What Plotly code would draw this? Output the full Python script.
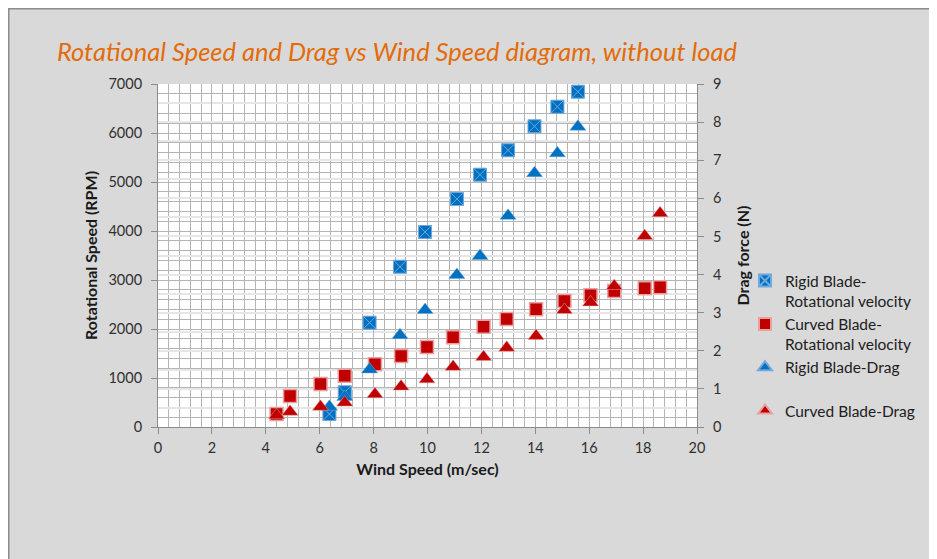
import plotly.graph_objects as go

# Wind speed (m/sec)
rigid_x = [6.36, 6.93, 7.85, 8.98, 9.91, 11.09, 11.95, 12.99, 13.97, 14.82, 15.58]
rigid_rpm = [265, 708, 2129, 3271, 3980, 4653, 5149, 5647, 6137, 6537, 6843]
rigid_drag = [0.53, 0.79, 1.51, 2.41, 3.07, 3.99, 4.49, 5.54, 6.66, 7.18, 7.88]

curved_x = [4.40, 4.90, 6.03, 6.93, 8.05, 9.02, 9.98, 10.95, 12.08, 12.94,
            14.03, 15.08, 16.05, 16.93, 18.06, 18.63]
curved_rpm = [265, 633, 878, 1048, 1279, 1449, 1633, 1830, 2048, 2204,
              2401, 2571, 2687, 2776, 2830, 2851]
curved_drag = [0.31, 0.40, 0.53, 0.64, 0.86, 1.06, 1.25, 1.58, 1.84, 2.08,
               2.39, 3.07, 3.27, 3.70, 5.01, 5.61]

names = ["Rigid Blade-<br>Rotational velocity",
         "Curved Blade-<br>Rotational velocity",
         "Rigid Blade-Drag<br>&nbsp;",
         "Curved Blade-Drag<br>&nbsp;"]

BLUE = "#0070C0"
RED = "#C00000"
FONT = "Lato, 'Open Sans', sans-serif"

# page has an 8px body margin; the figure is sized to fill the rest of the window
W, H = 929, 551
L, T, R, B = 150, 76, 240, 132
PH = H - T - B  # plot height

fig = go.Figure()
fig.add_trace(go.Scatter(x=rigid_x, y=rigid_rpm, mode="markers", name=names[0],
                         legendgroup="a",
                         marker=dict(symbol="square-x", size=13, color=BLUE,
                                     line=dict(color="#6FA8DC", width=1))))
fig.add_trace(go.Scatter(x=curved_x, y=curved_rpm, mode="markers", name=names[1],
                         legendgroup="b",
                         marker=dict(symbol="square", size=13, color=RED,
                                     line=dict(color="#E8A0A0", width=1.5))))
fig.add_trace(go.Scatter(x=rigid_x, y=rigid_drag, mode="markers", name=names[2],
                         legendgroup="c", yaxis="y2",
                         marker=dict(symbol="triangle-up", size=14, color=BLUE,
                                     line=dict(color="#6FA8DC", width=0.5))))
fig.add_trace(go.Scatter(x=curved_x, y=curved_drag, mode="markers", name=names[3],
                         legendgroup="d", yaxis="y2",
                         marker=dict(symbol="triangle-up", size=14, color=RED,
                                     line=dict(color="#E8A0A0", width=0.5))))

axis_font = dict(family=FONT, size=14.5, color="#303030")
title_font = dict(family=FONT, size=16, color="#1A1A1A")
fig.update_layout(
    width=W, height=H,
    margin=dict(l=L, r=R, t=T, b=B),
    paper_bgcolor="#D9D9D9",
    plot_bgcolor="white",
    font=dict(family=FONT, size=14, color="#202020"),
    title=dict(text="<i>Rotational Speed and Drag vs Wind Speed diagram, without load</i>",
               font=dict(family=FONT, size=25.5, color="#E36C0A"),
               x=49 / W, xref="container", xanchor="left",
               y=1 - 44 / H, yref="container", yanchor="middle"),
    xaxis=dict(range=[0, 20], dtick=2, tick0=0, showgrid=True,
               gridcolor="#B4B4B4", gridwidth=1,
               minor=dict(dtick=0.4, showgrid=True, gridcolor="#B4B4B4", gridwidth=1),
               showline=True, linecolor="#8C8C8C", linewidth=1,
               ticks="outside", ticklen=6, tickcolor="#8C8C8C",
               ticklabelstandoff=2,
               tickfont=axis_font, zeroline=False,
               title=dict(text="<b>Wind Speed (m/sec)</b>", standoff=8, font=title_font)),
    yaxis=dict(range=[0, 7000], dtick=1000, showgrid=True,
               gridcolor="#B4B4B4", gridwidth=1,
               minor=dict(dtick=200, showgrid=True, gridcolor="#B4B4B4", gridwidth=1),
               showline=True, linecolor="#8C8C8C", linewidth=1,
               ticks="outside", ticklen=6, tickcolor="#8C8C8C",
               ticklabelstandoff=6,
               tickfont=axis_font, zeroline=False,
               title=dict(text="<b>Rotational Speed (RPM)</b>", standoff=6, font=title_font)),
    yaxis2=dict(range=[0, 9], dtick=1, overlaying="y", side="right",
                showgrid=True, gridcolor="#E6E6E6", gridwidth=2,
                minor=dict(dtick=0.5, showgrid=True, gridcolor="#E6E6E6", gridwidth=2),
                showline=True, linecolor="#8C8C8C", linewidth=1,
                ticks="outside", ticklen=6, tickcolor="#8C8C8C",
                ticklabelstandoff=6,
                tickfont=axis_font, zeroline=False,
                title=dict(text="<b>Drag force (N)</b>", standoff=17, font=title_font)),
    legend=dict(x=(745 - 8 - L) / 539, xanchor="left",
                y=(H - B - (264 - 8)) / PH, yanchor="top",
                bgcolor="rgba(0,0,0,0)", font=dict(family=FONT, size=15.5, color="#202020"),
                valign="top", tracegroupgap=0, itemwidth=30, itemsizing="constant"),
    shapes=[
        dict(type="line", xref="paper", yref="paper",
             x0=-L / 539, x1=(W - L) / 539,
             y0=1 + T / PH, y1=1 + T / PH,
             line=dict(color="#8C8C8C", width=3)),
        dict(type="line", xref="paper", yref="paper",
             x0=-L / 539, x1=-L / 539,
             y0=1 + T / PH, y1=-B / PH,
             line=dict(color="#8C8C8C", width=3)),
    ],
)

fig.write_html("out.html")
